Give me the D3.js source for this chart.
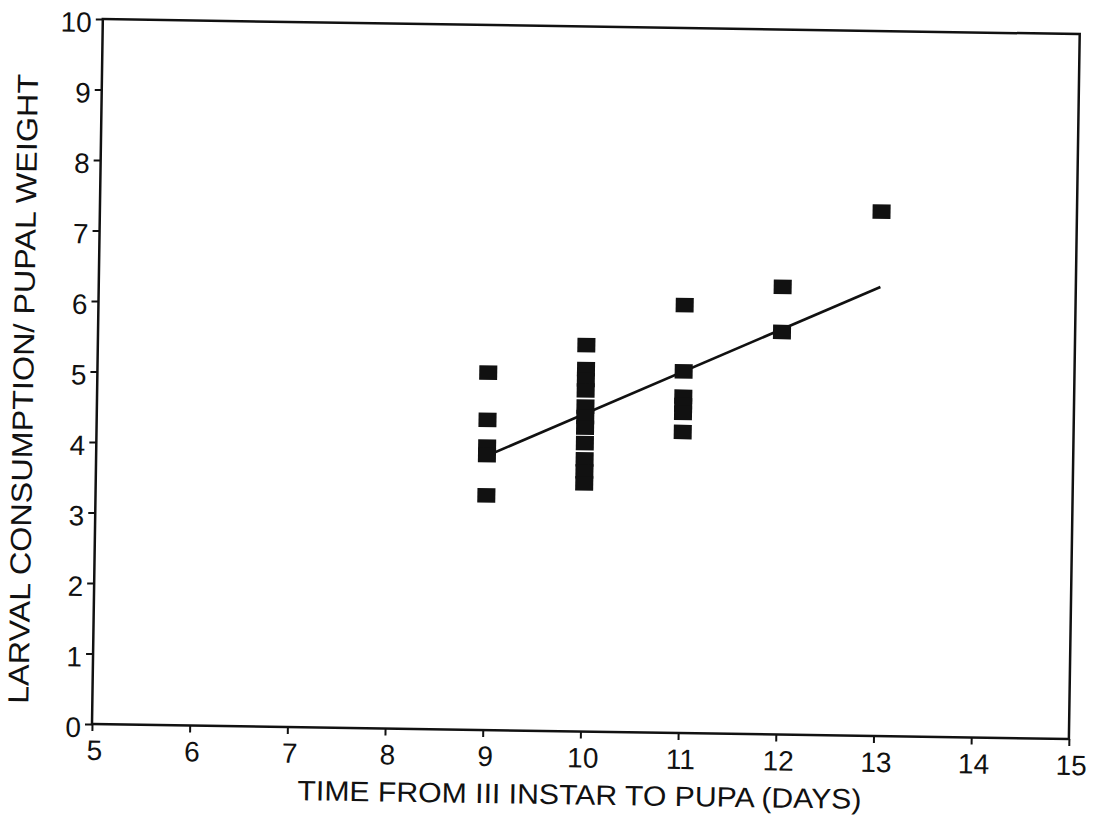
<!DOCTYPE html>
<html>
<head>
<meta charset="utf-8">
<script src="https://cdn.jsdelivr.net/npm/d3@7"></script>
<style>
  body { margin: 0; background: #fff; }
  svg { display: block; }
  text { font-family: "Liberation Sans", Arial, Helvetica, sans-serif; fill: #111; }
</style>
</head>
<body>
<svg id="chart" width="1099" height="820"></svg>
<script>
// Development time (days) from third instar to pupa, one entry per larva
const days = [
  9, 9, 9, 9, 9,
  10, 10, 10, 10, 10, 10, 10, 10, 10, 10, 10,
  11, 11, 11, 11, 11, 11,
  12, 12,
  13
];
// Larval consumption / pupal weight for the same larvae
const ratio = [
  5.07, 4.40, 4.02, 3.90, 3.33,
  5.48, 5.14, 4.99, 4.84, 4.61, 4.46, 4.31, 4.09, 3.86, 3.69, 3.52,
  6.07, 5.13, 4.77, 4.65, 4.54, 4.27,
  6.35, 5.71,
  7.44
];
// Fitted regression line end points
const fitDays = [9, 13];
const fitRatio = [3.89, 6.37];

const xTickValues = [5, 6, 7, 8, 9, 10, 11, 12, 13, 14, 15];
const yTickValues = [0, 1, 2, 3, 4, 5, 6, 7, 8, 9, 10];
const xTitle = "TIME FROM III INSTAR TO PUPA (DAYS)";
const yTitle = "LARVAL CONSUMPTION/ PUPAL WEIGHT";

const W = 977, H = 705;
const svg = d3.select("#chart");
// plot group, slightly tilted as on the printed page
const g = svg.append("g")
  .attr("transform", `translate(92,19) rotate(0.88,0,${H})`);

const x = d3.scaleLinear().domain([5, 15]).range([0, W]);
const y = d3.scaleLinear().domain([0, 10]).range([H, 0]);

const ink = "#111";

// x axis
const xAxis = g.append("g")
  .attr("transform", `translate(0,${H})`)
  .call(d3.axisBottom(x).tickValues(xTickValues).tickSize(7).tickSizeOuter(0).tickPadding(9));
xAxis.select(".domain").remove();
xAxis.selectAll(".tick line").attr("stroke", ink).attr("stroke-width", 2);
xAxis.selectAll(".tick text").attr("font-size", 28).attr("fill", ink).attr("dx", "0.08em");

// y axis
const yAxis = g.append("g")
  .call(d3.axisLeft(y).tickValues(yTickValues).tickSize(7).tickSizeOuter(0).tickPadding(4));
yAxis.select(".domain").remove();
yAxis.selectAll(".tick line").attr("stroke", ink).attr("stroke-width", 2);
yAxis.selectAll(".tick text").attr("font-size", 28).attr("fill", ink).attr("dy", "0.45em");

// plot frame
g.append("rect")
  .attr("x", x(5)).attr("y", y(10))
  .attr("width", x(15) - x(5)).attr("height", y(0) - y(10))
  .attr("fill", "none").attr("stroke", ink).attr("stroke-width", 2.5);

// regression line
const fit = fitDays.map((d, i) => [d, fitRatio[i]]);
g.append("path")
  .datum(fit)
  .attr("d", d3.line().x(d => x(d[0])).y(d => y(d[1])))
  .attr("fill", "none").attr("stroke", ink).attr("stroke-width", 2.6);

// square markers
const pts = days.map((d, i) => ({ d, r: ratio[i] }));
const sw = 18, sh = 14.5;
g.append("g").selectAll("rect")
  .data(pts)
  .join("rect")
  .attr("x", p => x(p.d) - sw / 2)
  .attr("y", p => y(p.r) - sh / 2)
  .attr("width", sw).attr("height", sh)
  .attr("fill", ink);

// axis titles
g.append("text")
  .attr("x", (x(5) + x(15)) / 2)
  .attr("y", H + 73)
  .attr("text-anchor", "middle")
  .attr("font-size", 28)
  .attr("textLength", 564).attr("lengthAdjust", "spacingAndGlyphs")
  .text(xTitle);

g.append("text")
  .attr("transform", `translate(-64,${371}) rotate(-90)`)
  .attr("text-anchor", "middle")
  .attr("font-size", 29)
  .attr("textLength", 630).attr("lengthAdjust", "spacingAndGlyphs")
  .text(yTitle);
</script>
</body>
</html>
